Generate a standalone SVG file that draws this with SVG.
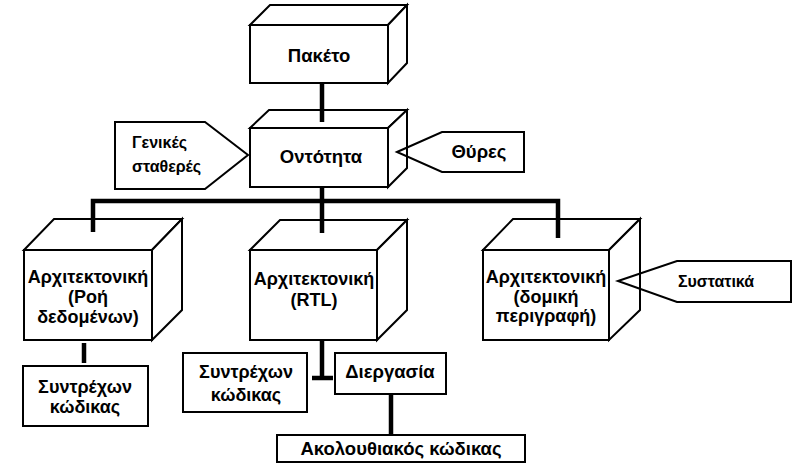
<svg xmlns="http://www.w3.org/2000/svg" width="793" height="464" viewBox="0 0 793 464">
<style>
.box{fill:#fff;stroke:#000;stroke-width:2;stroke-linejoin:miter}
.tag{fill:none;stroke:#000;stroke-width:2}
.con{stroke:#000;stroke-width:4.5;fill:none;stroke-linejoin:miter}
text{font-family:"Liberation Sans",Arial,sans-serif;font-weight:bold;font-size:18.5px;fill:#000}
.c{text-anchor:middle}
.m{font-size:18px}
.s{font-size:16px}
</style>
<rect width="793" height="464" fill="#fff"/>
<g id="paketo">
<polygon class="box" points="250,25 270,5 407,5 388,25"/>
<polygon class="box" points="388,25 407,5 407,63 388,83"/>
<rect class="box" x="250" y="25" width="138" height="58"/>
<text class="c" x="319" y="62">Πακέτο</text>
</g>
<g id="ontotita">
<polygon class="box" points="250,128 269,110 407,110 388,128"/>
<polygon class="box" points="388,128 407,110 407,168 388,187"/>
<rect class="box" x="250" y="128" width="138" height="59"/>
<text class="c" x="321" y="163">Οντότητα</text>
</g>
<g id="genikes">
<polygon class="tag" points="115,122 205,122 248,155 205,189 115,189"/>
<text class="s" x="132" y="148">Γενικές</text>
<text class="s" x="132" y="172">σταθερές</text>
</g>
<g id="thyres">
<polygon class="tag" points="397,152 442,132 524,132 524,172 442,172"/>
<text class="c" x="479" y="158">Θύρες</text>
</g>
<g id="arch-dataflow">
<polygon class="box" points="24,250 54,219 182,219 152,250"/>
<polygon class="box" points="152,250 182,219 182,310 152,340"/>
<rect class="box" x="24" y="250" width="128" height="90"/>
<text class="c m" x="88" y="283">Αρχιτεκτονική</text>
<text class="c m" x="88" y="303">(Ροή</text>
<text class="c m" x="88" y="323">δεδομένων)</text>
</g>
<g id="arch-rtl">
<polygon class="box" points="250,250 280,220 407,220 377,250"/>
<polygon class="box" points="377,250 407,220 407,310 377,340"/>
<rect class="box" x="250" y="250" width="127" height="90"/>
<text class="c m" x="314" y="285">Αρχιτεκτονική</text>
<text class="c m" x="314" y="306">(RTL)</text>
</g>
<g id="arch-structural">
<polygon class="box" points="483,250 513,219 640,219 609,250"/>
<polygon class="box" points="609,250 640,219 640,310 609,340"/>
<rect class="box" x="483" y="250" width="126" height="90"/>
<text class="c m" x="546" y="283">Αρχιτεκτονική</text>
<text class="c m" x="546" y="303">(δομική</text>
<text class="c m" x="546" y="322">περιγραφή)</text>
</g>
<g id="systatika">
<polygon class="tag" points="618,281 677,261 791,261 791,302 677,302"/>
<text class="c s" x="716" y="287">Συστατικά</text>
</g>
<g id="concurrent-1">
<rect class="box" x="23" y="366" width="125" height="60"/>
<text class="c m" x="85" y="393">Συντρέχων</text>
<text class="c m" x="85" y="413">κώδικας</text>
</g>
<g id="concurrent-2">
<rect class="box" x="183" y="353" width="124" height="59"/>
<text class="c m" x="246" y="378">Συντρέχων</text>
<text class="c m" x="246" y="401">κώδικας</text>
</g>
<g id="process">
<rect class="box" x="335" y="353" width="111" height="41"/>
<text class="c" x="390" y="378">Διεργασία</text>
</g>
<g id="sequential">
<rect class="box" x="277" y="435" width="248" height="27"/>
<text class="c" x="401" y="455">Ακολουθιακός κώδικας</text>
</g>
<g id="connectors">
<line class="con" x1="322" y1="83" x2="322" y2="122"/>
<line class="con" x1="322" y1="187" x2="322" y2="201"/>
<polyline class="con" points="93,232 93,201 558,201 558,238"/>
<line class="con" x1="322" y1="201" x2="322" y2="233"/>
<line class="con" x1="84" y1="343" x2="84" y2="363"/>
<line class="con" x1="322" y1="341" x2="322" y2="378"/>
<line class="con" x1="312" y1="378" x2="333" y2="378"/>
<line class="con" x1="391" y1="394" x2="391" y2="435"/>
</g>
</svg>
